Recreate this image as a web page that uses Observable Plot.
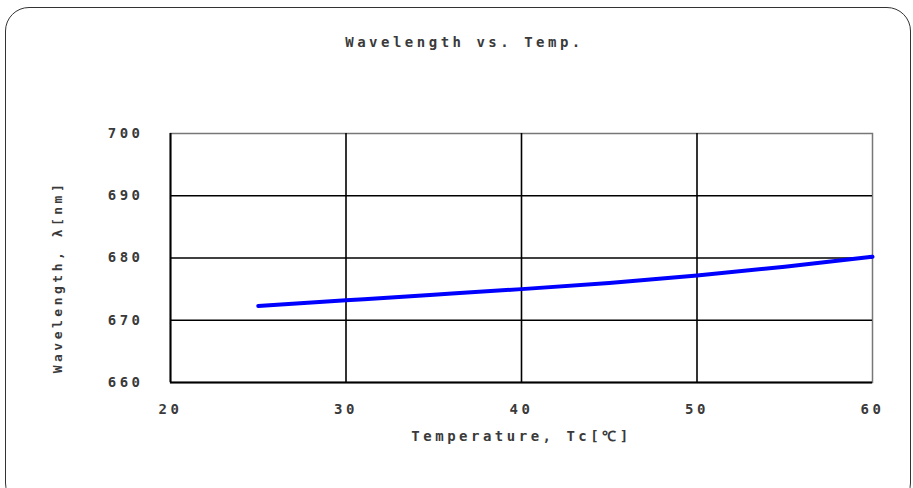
<!DOCTYPE html>
<html>
<head>
<meta charset="utf-8">
<script src="https://cdn.jsdelivr.net/npm/d3@7"></script>
<script src="https://cdn.jsdelivr.net/npm/@observablehq/plot@0.6"></script>
<style>
  html, body { margin: 0; padding: 0; background: #fff; width: 913px; height: 488px; overflow: hidden; }
  #wrap { position: relative; width: 913px; height: 488px; }
  #border { position: absolute; left: 5px; top: 7px; width: 906px; height: 500px; border: 1.5px solid #333; border-radius: 24px; box-sizing: border-box; }
  #chart { position: absolute; left: 0; top: 0; }
  svg text { font-family: "DejaVu Sans Mono", monospace; font-weight: bold; fill: #3a3a3a; }
</style>
</head>
<body>
<div id="wrap"><div id="border"></div><div id="chart"></div></div>
<script>
const titleText = "Wavelength vs. Temp.";
const xLabel = "Temperature, Tc[℃]";
const yLabel = "Wavelength, λ[nm]";
const temperature = [25, 30, 35, 40, 45, 50, 55, 60];
const wavelength = [672.3, 673.2, 674.1, 675.0, 676.0, 677.2, 678.6, 680.2];
const xTicks = [20, 30, 40, 50, 60];
const yTicks = [660, 670, 680, 690, 700];

const data = temperature.map((t, i) => ({t, w: wavelength[i]}));

const chart = Plot.plot({
  width: 913,
  height: 488,
  marginLeft: 170,
  marginRight: 41,
  marginTop: 133,
  marginBottom: 106,
  style: {fontSize: "14px", letterSpacing: "3.5px", background: "transparent", overflow: "visible"},
  x: {domain: [20, 60], ticks: xTicks, tickSize: 0, tickPadding: 22, label: null},
  y: {domain: [660, 700], ticks: yTicks, tickSize: 0, tickPadding: 27, label: null},
  marks: [
    Plot.frame({stroke: "#777", strokeWidth: 1.5}),
    Plot.ruleX(xTicks.slice(1, -1), {stroke: "#000", strokeWidth: 1.6}),
    Plot.ruleY(yTicks.slice(1, -1), {stroke: "#000", strokeWidth: 1.6}),
    Plot.ruleX([xTicks[0]], {stroke: "#000", strokeWidth: 2}),
    Plot.ruleY([yTicks[0]], {stroke: "#000", strokeWidth: 2}),
    Plot.line(data, {x: "t", y: "w", stroke: "#0000ff", strokeWidth: 4, curve: "natural"}),
    Plot.text([titleText], {frameAnchor: "top", dx: -57, dy: -96, text: d => d, fontSize: 14}),
    Plot.text([xLabel], {frameAnchor: "bottom", dy: 58, text: d => d, fontSize: 14}),
    Plot.text([yLabel], {frameAnchor: "left", textAnchor: "middle", dx: -113, dy: 19, rotate: -90, text: d => d, fontSize: 13, letterSpacing: "3px"})
  ]
});
document.getElementById("chart").appendChild(chart);
</script>
</body>
</html>
